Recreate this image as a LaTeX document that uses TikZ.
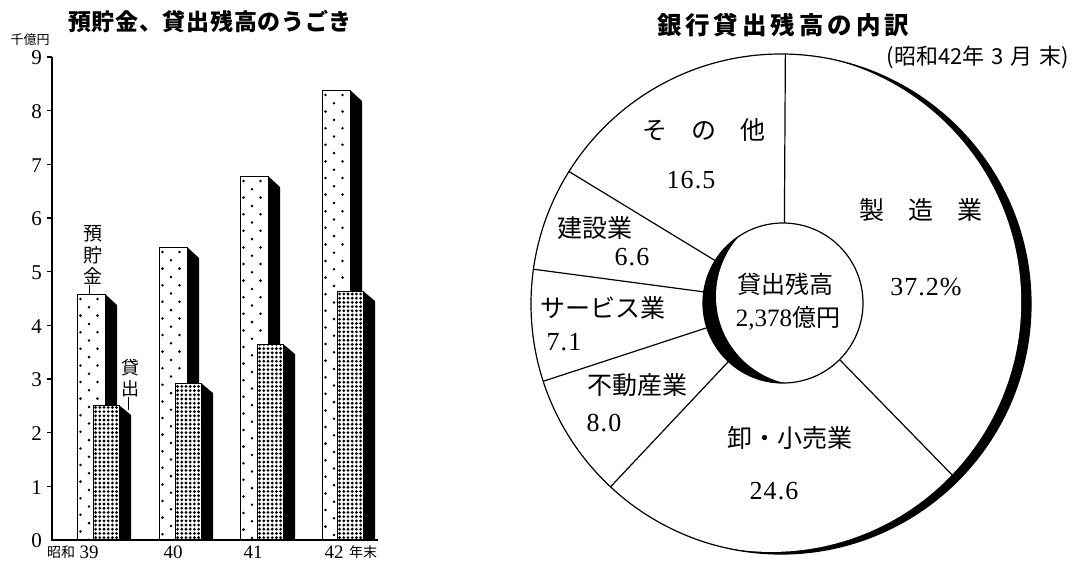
\documentclass[tikz,border=0pt]{standalone}
\usepackage{fontspec}
\usetikzlibrary{calc}
\setmainfont{Noto Sans CJK JP}
\newfontfamily\cjk{Noto Sans CJK JP}
\newfontfamily\cjkA[LetterSpace=3]{Noto Sans CJK JP}
\newfontfamily\cjkB[LetterSpace=16]{Noto Sans CJK JP}
\newfontfamily\numf{Liberation Serif}
\newfontfamily\numsp[LetterSpace=4]{Liberation Serif}
\newcommand\fsz[1]{\fontsize{#1}{#1}\selectfont}
\tikzset{
  barline/.style={line width=1pt},
  axisline/.style={line width=1.3pt},
  divider/.style={line width=1.2pt},
  ring/.style={line width=1.2pt},
  lbl/.style={inner sep=0pt, font=\cjk\fsz{25}},
  numlbl/.style={inner sep=0pt, font=\numsp\fsz{26}},
  ytick/.style={inner sep=0pt, anchor=east, font=\numf\fsz{21}},
  xlbl/.style={inner sep=0pt, font=\numf\fsz{19}},
  small/.style={inner sep=0pt, font=\cjk\fsz{14}},
  ttlA/.style={inner sep=0pt, font=\cjkA\bfseries\fsz{23}},
  ttlB/.style={inner sep=0pt, font=\cjkB\bfseries\fsz{24.5}},
  vlbl/.style={inner sep=0pt, align=center},
}
% deposit bar: #1 left x, #2 top y (image coords)
\newcommand\depbar[2]{%
  \fill[black] (#1+28,#2) -- (#1+40,#2+11) -- (#1+40,540) -- (#1+28,540) -- cycle;
  \fill[white] (#1,#2) rectangle (#1+28,540);
  \begin{scope}
    \clip (#1+0.6,#2+0.6) rectangle (#1+27.4,540);
    \foreach \rr in {0,...,28}{
      \fill (#1+3.5,#2+5+\rr*16.6) circle[radius=1.4pt];
      \fill (#1+20.5,#2+5+\rr*16.6) circle[radius=1.4pt];
      \fill (#1+12,#2+13.3+\rr*16.6) circle[radius=1.4pt];
    }
  \end{scope}
  \draw[barline] (#1,540) -- (#1,#2) -- (#1+28,#2) -- (#1+28,540);
}
% loan bar: #1 left x, #2 top y
\newcommand\loanbar[2]{%
  \fill[black] (#1+26,#2) -- (#1+38,#2+10) -- (#1+38,540) -- (#1+26,540) -- cycle;
  \fill[white] (#1,#2) rectangle (#1+26,540);
  \begin{scope}
    \clip (#1+0.6,#2+1.6) rectangle (#1+25.4,540);
    \foreach \rr in {0,...,60}{\foreach \cc in {0,...,5}{
      \fill (#1+2.6+\cc*4.2,537.6-\rr*4.2) circle[radius=1.55pt];}}
  \end{scope}
  \draw[barline] (#1,540) -- (#1,#2) -- (#1+26,#2) -- (#1+26,540);
}
\begin{document}
\begin{tikzpicture}[x=1pt,y=-1pt]
\useasboundingbox[fill=white] (0,0) rectangle (1083,562);

% ================= LEFT CHART =================
\node[ttlA] (ltitle) at (210,22) {預貯金、貸出残高のうごき};
\node[inner sep=0pt, font=\cjk\fsz{13}] (unit) at (30,40) {千億円};

\depbar{77}{294}
\loanbar{93}{405}
\depbar{159}{247}
\loanbar{175}{383}
\depbar{240}{176}
\loanbar{257}{344}
\depbar{322}{90}
\loanbar{337}{291}

\draw[axisline] (52,57) -- (52,540) -- (378,540);
\foreach \v in {1,...,9} \draw[axisline] (47,{540-\v*53.67}) -- (52,{540-\v*53.67});
\foreach \v in {0,...,9} \node[ytick] (yl\v) at (42,{541-\v*53.67}) {\v};

\node[small] (showa) at (61,552) {昭和};
\node[xlbl] (x39) at (89,552) {39};
\node[xlbl] (x40) at (173,552) {40};
\node[xlbl] (x41) at (253,552) {41};
\node[xlbl] (x42) at (334,552) {42};
\node[small] (nenmatsu) at (363,552) {年末};

\node[vlbl, font=\cjk\fontsize{19}{21.5}\selectfont] (yochokin) at (93,255) {預\\貯\\金};
\coordinate (ytk) at (89,294);
\draw[line width=1pt] (ytk |- yochokin.south) -- (ytk);
\node[vlbl, font=\cjk\fontsize{18}{21.5}\selectfont] (kashidashi) at (130,378) {貸\\出};
\coordinate (ktk) at (128,410);
\draw[line width=1pt] (ktk |- kashidashi.south) -- (ktk);

% ================= RIGHT CHART =================
\node[ttlB] (rtitle) at (783,25) {銀行貸出残高の内訳};
\node[inner sep=0pt, font=\cjk\fsz{22}] (rsub) at (978,57) {(昭和42年\hspace{7pt}3\hspace{7pt}月\hspace{7pt}末)};

\coordinate (oc) at (781,304);
\coordinate (wc) at ($(oc)+(168:10pt)$);
\fill[black] (oc) circle[radius=250pt];
\begin{scope}
  \clip (oc) circle[radius=250pt];
  \fill[white] (wc) circle[radius=250pt];
\end{scope}

\coordinate (ic) at (783,303);
\foreach \a in {89,148,172,198,227,315}{
  \coordinate (i\a) at ($(ic)+(\a:79pt)$);
  \coordinate (o\a) at ($(oc)+(\a:250pt)$);
  \draw[divider] (i\a) -- (o\a);
}
\draw[ring] (oc) circle[radius=250pt];

\fill[black] (ic) circle[radius=80pt];
\begin{scope}
  \clip (ic) circle[radius=80pt];
  \fill[white] ($(ic)+(17:23pt)$) circle[radius=89pt];
\end{scope}
\draw[ring] (ic) circle[radius=80pt];

\node[lbl] (sonota) at (704,130) {そ\hspace{24pt}の\hspace{24pt}他};
\node[numlbl] (v165) at (691,180) {16.5};
\node[lbl] (seizo) at (921,210) {製\hspace{24pt}造\hspace{24pt}業};
\node[numlbl] (v372) at (926,287) {37.2\%};
\node[lbl] (kensetsu) at (595,228) {建設業};
\node[numlbl] (v66) at (632,257) {6.6};
\node[lbl] (service) at (603,308) {サービス業};
\node[numlbl] (v71) at (564,342) {7.1};
\node[lbl] (fudosan) at (637,385) {不動産業};
\node[numlbl] (v80) at (604,423) {8.0};
\node[lbl] (oroshi) at (790,438) {卸・小売業};
\node[numlbl] (v246) at (774,491) {24.6};
\node[inner sep=0pt, font=\cjk\fsz{24}] (zandaka) at (785,284) {貸出残高};
\node[inner sep=0pt] (total) at (788,318) {{\numf\fsz{25}2,378}{\cjk\fsz{24}億円}};
\end{tikzpicture}
\end{document}
